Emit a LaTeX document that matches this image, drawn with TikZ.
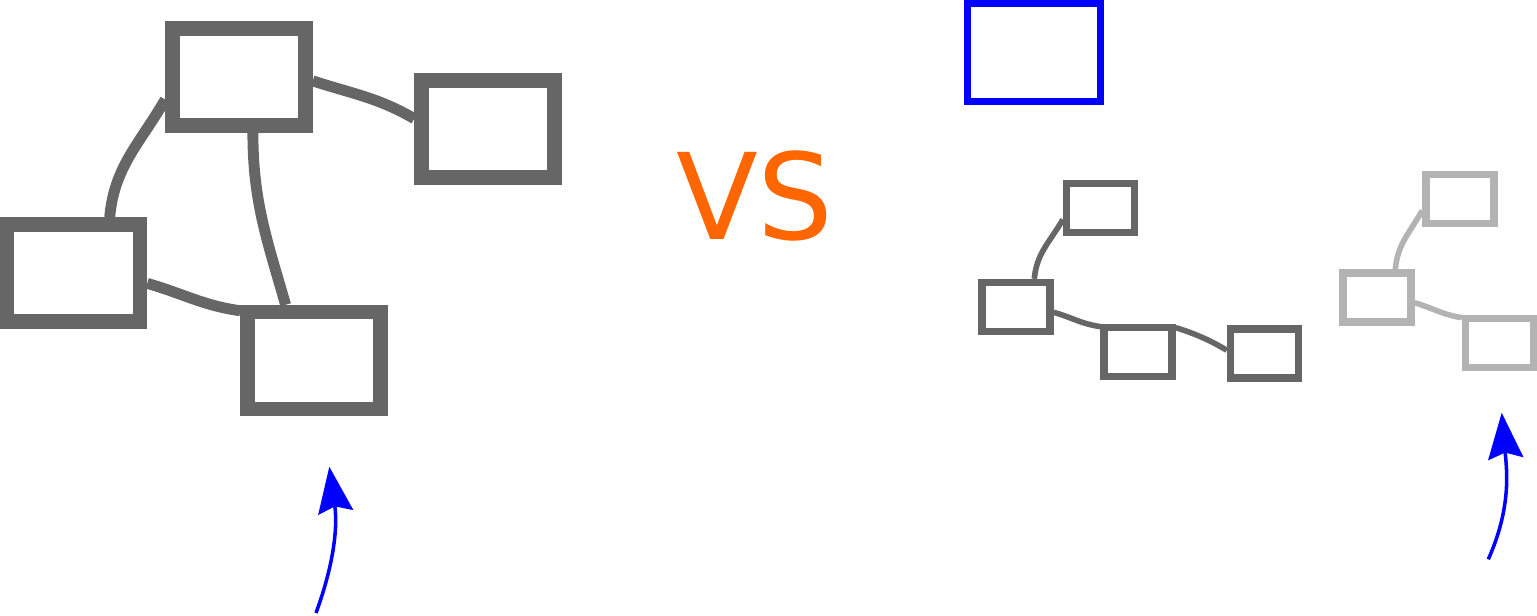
\documentclass[tikz,border=0pt]{standalone}
\usepackage{xcolor}
\usepackage{fontspec}
\usepackage{tikz}
\usetikzlibrary{arrows.meta}

\newfontfamily\vsfont{DejaVu Sans}
\definecolor{nodegrey}{HTML}{666666}
\definecolor{fadedgrey}{HTML}{B3B3B3}
\definecolor{vsorange}{HTML}{FF6600}

\tikzset{
    bigbox/.style={draw=nodegrey, line width=4.1pt, minimum width=1.33cm, minimum height=0.97cm, inner sep=0pt},
    smallbox/.style={draw=nodegrey, line width=2.07pt, minimum width=0.68cm, minimum height=0.49cm, inner sep=0pt},
    fadedbox/.style={smallbox, draw=fadedgrey},
    bluebox/.style={draw=blue, line width=2pt, minimum width=1.32cm, minimum height=0.98cm, inner sep=0pt},
    bigedge/.style={draw=nodegrey, line width=3.1pt},
    smalledge/.style={draw=nodegrey, line width=1.6pt},
    fadededge/.style={smalledge, draw=fadedgrey},
    pointer/.style={draw=blue, line width=1pt, -{Stealth[length=4.6mm, width=3.5mm, inset=0.6mm]}},
    vslabel/.style={text=vsorange, inner sep=0pt, font=\vsfont\fontsize{34}{40}\selectfont}
}

\begin{document}
\begin{tikzpicture}[x=0.01cm, y=0.01cm]
        \useasboundingbox (0, 0) rectangle (1537, -615);

        % Big graph
        \node[bigbox] (A) at (239, -77) {};
        \node[bigbox] (B) at (488, -129) {};
        \node[bigbox] (C) at (73.5, -273) {};
        \node[bigbox] (D) at (314, -360.5) {};
        \draw[bigedge] (C.57) to[out=85, in=240] (A.197);
        \draw[bigedge] (A.-3) to[out=-18, in=150] (B.172);
        \draw[bigedge] (A.284) to[out=-90, in=106] (D.117);
        \draw[bigedge] (C.-8) to[out=-16, in=172] (D.146);
        \coordinate (lefttail) at (316, -613);
        \coordinate (lefttip) at (329.3, -466.7);
        \draw[pointer] (lefttail) to[out=70, in=-82] (lefttip);

        % VS
        \node[vslabel] (vs) at (755, -195.5) {VS};

        % Blue box
        \node[bluebox] (target) at (1034, -52.5) {};

        % Small graph
        \node[smallbox] (E) at (1100.5, -208) {};
        \node[smallbox] (F) at (1016, -307) {};
        \node[smallbox] (G) at (1138, -352) {};
        \node[smallbox] (H) at (1264.5, -353.5) {};
        \draw[smalledge] (F.57) to[out=85, in=240] (E.197);
        \draw[smalledge] (F.-8) to[out=-16, in=172] (G.146);
        \draw[smalledge] (G.33) to[out=-18, in=150] (H.175);

        % Faded graph
        \node[fadedbox] (I) at (1460, -199) {};
        \node[fadedbox] (J) at (1377, -297.5) {};
        \node[fadedbox] (K) at (1499.5, -343) {};
        \draw[fadededge] (J.57) to[out=85, in=240] (I.197);
        \draw[fadededge] (J.-8) to[out=-16, in=172] (K.146);
        \coordinate (righttail) at (1488.3, -559.3);
        \coordinate (righttip) at (1501.7, -412.7);
        \draw[pointer] (righttail) to[out=66, in=-85] (righttip);
    \end{tikzpicture}
\end{document}
